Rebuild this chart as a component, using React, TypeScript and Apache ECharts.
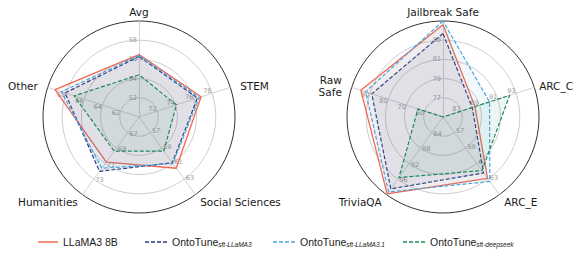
import React, { useEffect, useRef } from 'react';
import * as echarts from 'echarts';

// ---- data ----
const seriesNames = ['LLaMA3 8B', 'OntoTune sft-LLaMA3', 'OntoTune sft-LLaMA3.1', 'OntoTune sft-deepseek'];
const legendMain = ['LLaMA3 8B', 'OntoTune', 'OntoTune', 'OntoTune'];
const legendSub = ['', 'sft-LLaMA3', 'sft-LLaMA3.1', 'sft-deepseek'];

// left radar (counter-clockwise from top)
const leftIndicators = ['Avg', 'Other', 'Humanities', 'Social Sciences', 'STEM'];
const leftMin = [50, 60, 65, 55, 70];
const leftMax = [60, 70, 75, 65, 80];
const leftLlama = [56.5, 69.2, 70.8, 61.6, 76.8];
const leftSftLlama3 = [56.3, 68.1, 72.0, 60.9, 76.4];
const leftSftLlama31 = [56.4, 68.5, 71.6, 61.0, 76.6];
const leftSftDeepseek = [54.4, 67.1, 69.4, 59.4, 74.1];

// right radar (counter-clockwise from top)
const rightIndicators = ['Jailbreak Safe', 'Raw\nSafe', 'TriviaQA', 'ARC_E', 'ARC_C'];
const rightMin = [75, 50, 80, 55, 85];
const rightMax = [85, 100, 100, 65, 95];
const rightLlama = [84.6, 95.0, 99.8, 62.9, 88.5];
const rightSftLlama3 = [83.7, 89.0, 98.5, 62.2, 88.2];
const rightSftLlama31 = [85.0, 92.4, 99.3, 63.3, 90.1];
const rightSftDeepseek = [75.0, 63.7, 95.6, 61.9, 92.3];

const leftValues = [leftLlama, leftSftLlama3, leftSftLlama31, leftSftDeepseek];
const rightValues = [rightLlama, rightSftLlama3, rightSftLlama31, rightSftDeepseek];

// ---- styles ----
const colors = ['#ee6a55', '#2f3f7f', '#4ba6de', '#1f8a5b'];
const lineTypes: any[] = ['solid', [4, 2], [4, 2], [4, 2]];
const legendLefts = [33, 140, 268, 398];
const bottomNames = ['Humanities', 'Social Sciences', 'TriviaQA', 'ARC_E'];
const edgeNames = ['ARC_C'];

const solidIcon = 'rect';
const dashIcon = 'path://M0,0h4v1h-4zM6,0h4v1h-4zM12,0h4v1h-4zM18,0h4v1h-4z';

const nameBase = { fontFamily: 'DejaVu Sans', fontSize: 10.5, color: '#1a1a1a', lineHeight: 12 };

function makeRadar(names: string[], mins: number[], maxs: number[], center: number[]) {
  return {
    center,
    radius: 96,
    shape: 'circle',
    splitNumber: 5,
    startAngle: 90,
    nameGap: 3,
    indicator: names.map((n, i) => ({ name: n, min: mins[i], max: maxs[i] })),
    axisName: {
      color: '#1a1a1a',
      fontFamily: 'DejaVu Sans',
      fontSize: 10.5,
      formatter: (name: string) =>
        bottomNames.includes(name) ? `{b|${name}}` : edgeNames.includes(name) ? `{e|${name}}` : `{a|${name}}`,
      rich: {
        a: { ...nameBase, padding: [0, 7, 0, 7] },
        b: { ...nameBase, padding: [10, 3, 0, 3] },
        e: { ...nameBase, padding: [0, 2, 0, 2] },
      },
    },
    axisLine: { lineStyle: { color: '#c8c8c8', width: 0.8 } },
    splitLine: {
      lineStyle: {
        color: ['#c8c8c8', '#c8c8c8', '#c8c8c8', '#c8c8c8', '#c8c8c8', '#1a1a1a'],
        width: 0.9,
      },
    },
    splitArea: { show: false },
    axisTick: { show: false },
    axisLabel: {
      show: true,
      color: '#9a9a9a',
      fontSize: 6.5,
      fontFamily: 'DejaVu Sans',
      margin: 2,
      showMinLabel: false,
      showMaxLabel: false,
    },
  };
}

function makeSeries(radarIndex: number, values: number[][]) {
  return values.map((v, i) => ({
    type: 'radar',
    name: seriesNames[i],
    radarIndex,
    symbol: 'none',
    z: 2 + i,
    lineStyle: { color: colors[i], width: i === 0 ? 1.3 : 1.2, type: lineTypes[i] },
    itemStyle: { color: colors[i] },
    areaStyle: { color: colors[i], opacity: 0.08 },
    data: [{ value: v, name: seriesNames[i] }],
  }));
}

export default function App() {
  const ref = useRef<HTMLDivElement>(null);
  useEffect(() => {
    if (!ref.current) return;
    const chart = echarts.init(ref.current, undefined, { renderer: 'svg' });
    const option: any = {
      animation: false,
      backgroundColor: '#ffffff',
      textStyle: { fontFamily: 'DejaVu Sans' },
      radar: [
        makeRadar(leftIndicators, leftMin, leftMax, [139, 117]),
        makeRadar(rightIndicators, rightMin, rightMax, [443, 117]),
      ],
      legend: seriesNames.map((n, i) => ({
        data: [{ name: n, icon: i === 0 ? solidIcon : dashIcon }],
        left: legendLefts[i],
        top: 231,
        itemWidth: i === 0 ? 20 : 22,
        itemHeight: 1.5,
        symbolKeepAspect: false,
        selectedMode: false,
        formatter: () =>
          legendSub[i] ? `{m|${legendMain[i]}}{s|${legendSub[i]}}` : `{m|${legendMain[i]}}`,
        textStyle: {
          fontFamily: 'Liberation Sans',
          fontSize: 10.5,
          color: '#1a1a1a',
          lineHeight: 15,
          rich: {
            m: { fontFamily: 'Liberation Sans', fontSize: 10.5, color: '#1a1a1a', lineHeight: 12, verticalAlign: 'top' },
            s: { fontFamily: 'Liberation Sans', fontSize: 6.5, fontStyle: 'italic', color: '#1a1a1a', lineHeight: 7, verticalAlign: 'bottom' },
          },
        },
      })),
      series: [...makeSeries(0, leftValues), ...makeSeries(1, rightValues)],
    };
    chart.setOption(option);
    return () => chart.dispose();
  }, []);
  return <div ref={ref} style={{ position: 'absolute', left: 0, top: 0, width: 576, height: 255 }} />;
}
